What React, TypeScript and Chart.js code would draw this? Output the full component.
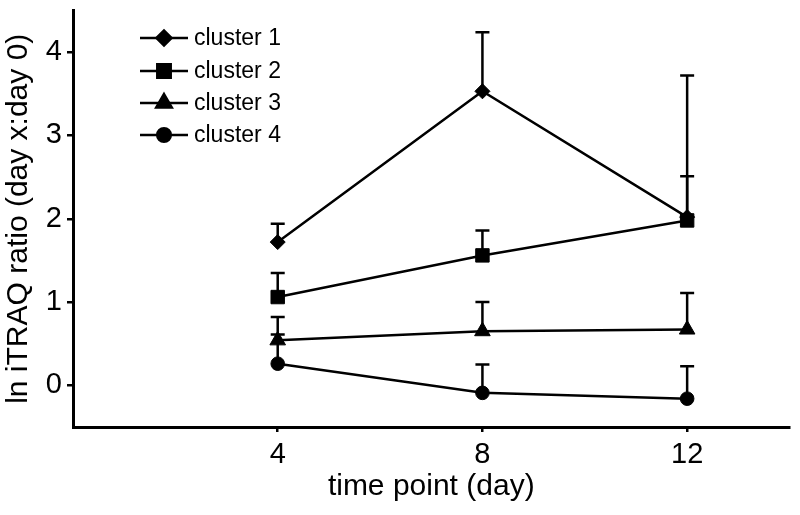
import { useEffect, useRef } from 'react';
import { Chart, registerables } from 'chart.js';
import { drawPoint } from 'chart.js/helpers';

Chart.register(...registerables);

const timePoints = [4, 8, 12];
const seriesNames = ['cluster 1', 'cluster 2', 'cluster 3', 'cluster 4'];
const cluster1 = [1.72, 3.53, 2.02];
const cluster2 = [1.06, 1.56, 1.98];
const cluster3 = [0.54, 0.65, 0.67];
const cluster4 = [0.26, -0.09, -0.16];
const cluster1Err = [0.22, 0.71, 1.7];
const cluster2Err = [0.29, 0.3, 0.53];
const cluster3Err = [0.28, 0.35, 0.44];
const cluster4Err = [0.35, 0.34, 0.39];
const xTicks = [4, 8, 12];
const yTicks = [0, 1, 2, 3, 4];

const seriesValues = [cluster1, cluster2, cluster3, cluster4];
const seriesErrors = [cluster1Err, cluster2Err, cluster3Err, cluster4Err];
const pointStyles = ['rectRot', 'rect', 'triangle', 'circle'];
const pointRadii = [7.5, 9.5, 9, 6.8];

const FONT = '"Liberation Sans", Arial, Helvetica, sans-serif';

const errorBarPlugin = {
  id: 'errorBars',
  afterDatasetsDraw(chart: any) {
    const ctx = chart.ctx;
    const xs = chart.scales.x;
    const ys = chart.scales.y;
    ctx.save();
    ctx.strokeStyle = '#000';
    ctx.lineWidth = 2.5;
    seriesValues.forEach((vals, i) => {
      vals.forEach((v, j) => {
        const x = xs.getPixelForValue(timePoints[j]);
        const y0 = ys.getPixelForValue(v);
        const y1 = ys.getPixelForValue(v + seriesErrors[i][j]);
        ctx.beginPath();
        ctx.moveTo(x, y0);
        ctx.lineTo(x, y1);
        ctx.moveTo(x - 7, y1);
        ctx.lineTo(x + 7, y1);
        ctx.stroke();
      });
    });
    ctx.restore();
  },
};

const legendPlugin = {
  id: 'insideLegend',
  afterDraw(chart: any) {
    const ctx = chart.ctx;
    ctx.save();
    const rows = [38, 71, 103, 135];
    seriesNames.forEach((name, i) => {
      const y = rows[i];
      ctx.strokeStyle = '#000';
      ctx.lineWidth = 2.5;
      ctx.beginPath();
      ctx.moveTo(140, y);
      ctx.lineTo(188, y);
      ctx.stroke();
      ctx.fillStyle = '#000';
      drawPoint(ctx, { pointStyle: pointStyles[i], radius: pointRadii[i], borderWidth: 1, rotation: 0 } as any, 164, y);
      ctx.fillStyle = '#000';
      ctx.font = `23px ${FONT}`;
      ctx.textAlign = 'left';
      ctx.textBaseline = 'middle';
      ctx.fillText(name, 194, y + 1);
    });
    ctx.restore();
  },
};

export default function App() {
  const ref = useRef<HTMLCanvasElement | null>(null);
  useEffect(() => {
    if (!ref.current) return;
    const chart = new Chart(ref.current, {
      type: 'line',
      data: {
        datasets: seriesValues.map((vals, i) => ({
          label: seriesNames[i],
          data: vals.map((v, j) => ({ x: timePoints[j], y: v })),
          borderColor: '#000',
          backgroundColor: '#000',
          borderWidth: 2.5,
          pointStyle: pointStyles[i] as any,
          pointRadius: pointRadii[i],
          pointBorderWidth: 1,
          pointBackgroundColor: '#000',
          pointBorderColor: '#000',
          tension: 0,
          fill: false,
        })),
      },
      options: {
        responsive: true,
        maintainAspectRatio: false,
        animation: false,
        layout: { padding: { top: 7, right: 5, left: 0, bottom: 0 } },
        plugins: { legend: { display: false }, tooltip: { enabled: false } },
        scales: {
          x: {
            type: 'linear',
            min: 0,
            max: 14,
            afterBuildTicks: (s: any) => {
              s.ticks = xTicks.map((v) => ({ value: v }));
            },
            afterFit: (s: any) => {
              s.height = 88;
              s.paddingLeft = 0;
              s.paddingRight = 0;
            },
            grid: { display: true, drawOnChartArea: false, drawTicks: true, tickLength: 5, color: '#000', lineWidth: 2.5 },
            border: { display: true, color: '#000', width: 3 },
            ticks: { color: '#000', padding: 6, font: { family: FONT, size: 29 }, maxRotation: 0 },
            title: { display: true, text: 'time point (day)', color: '#000', font: { family: FONT, size: 30 }, padding: { top: 0, bottom: 10 } },
          },
          y: {
            type: 'linear',
            min: -0.5,
            max: 4.5,
            afterBuildTicks: (s: any) => {
              s.ticks = yTicks.map((v) => ({ value: v }));
            },
            afterFit: (s: any) => {
              s.width = 73;
              s.paddingTop = 0;
              s.paddingBottom = 0;
            },
            grid: { display: true, drawOnChartArea: false, drawTicks: true, tickLength: 6, color: '#000', lineWidth: 2.5 },
            border: { display: true, color: '#000', width: 3 },
            ticks: { color: '#000', padding: 5, font: { family: FONT, size: 29 } },
            title: { display: true, text: 'ln iTRAQ ratio (day x:day 0)', color: '#000', font: { family: FONT, size: 30 }, padding: { top: 1, bottom: 0 } },
          },
        },
      },
      plugins: [errorBarPlugin, legendPlugin],
    });
    return () => chart.destroy();
  }, []);
  return (
    <div style={{ position: 'absolute', left: 0, top: 0, width: 800, height: 515, background: '#fff' }}>
      <canvas ref={ref} style={{ display: 'block' }} />
    </div>
  );
}
